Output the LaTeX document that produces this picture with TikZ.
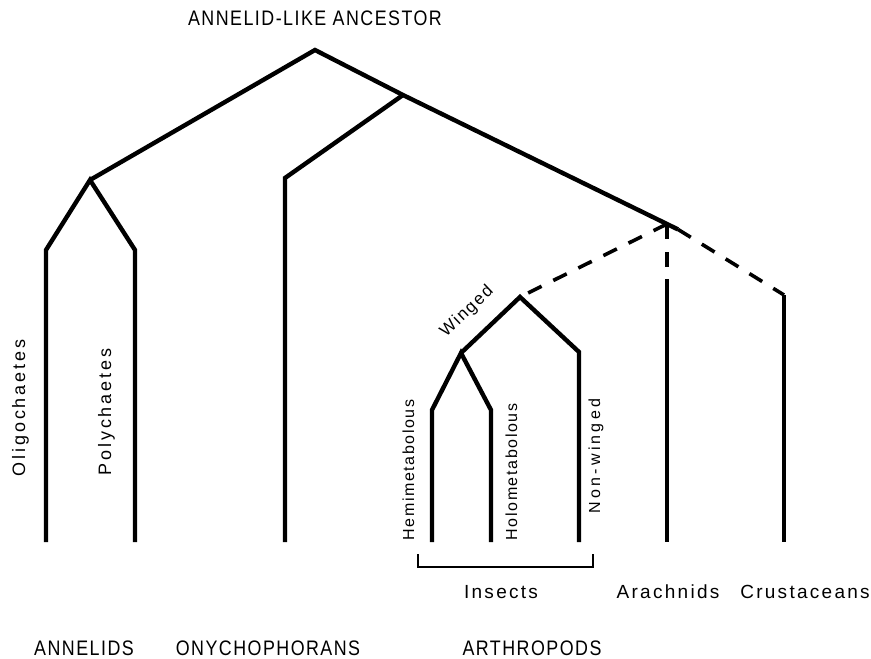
\documentclass[tikz,border=0pt]{standalone}
\usepackage{fontspec}
\setmainfont{Liberation Sans}
\newfontfamily\capsfont{Liberation Sans}[LetterSpace=7,FakeStretch=0.85]
\newfontfamily\lowfont{Liberation Sans}[LetterSpace=12]
\newfontfamily\vbigfont{Liberation Sans}[LetterSpace=16]
\newfontfamily\vfont{Liberation Sans}[LetterSpace=10]
\newfontfamily\vwidefont{Liberation Sans}[LetterSpace=20]
\begin{document}
\begin{tikzpicture}[x=1pt,y=-1pt,
  branch/.style={line width=4.4pt,line join=miter},
  dashbranch/.style={line width=3.6pt,dash pattern=on 15pt off 13pt},
  bracketline/.style={line width=2.8pt},
  caps/.style={font=\capsfont\fontsize{21}{21}\selectfont,inner sep=0pt,anchor=base},
  lab/.style={font=\lowfont\fontsize{19}{19}\selectfont,inner sep=0pt,anchor=base},
  vlabbig/.style={font=\vbigfont\fontsize{18}{18}\selectfont,inner sep=0pt,anchor=base,rotate=90},
  vlab/.style={font=\vfont\fontsize{16}{16}\selectfont,inner sep=0pt,anchor=base,rotate=90},
  vlabwide/.style={font=\vwidefont\fontsize{16}{16}\selectfont,inner sep=0pt,anchor=base,rotate=90},
  diaglab/.style={font=\vfont\fontsize{17}{17}\selectfont,inner sep=0pt,anchor=base,rotate=43.5}]
\useasboundingbox (0,0) rectangle (871,659);
% junctions and ends
\coordinate (root) at (315,50);
\coordinate (onyj) at (403,95);
\coordinate (ann) at (90,180);
\coordinate (olc) at (46,250);
\coordinate (olb) at (46,542);
\coordinate (poc) at (135,250);
\coordinate (pob) at (135,542);
\coordinate (onc) at (285,178);
\coordinate (onb) at (285,542);
\coordinate (arth) at (667,224);
\coordinate (ext) at (678,229.4);
\coordinate (ins) at (520,297);
\coordinate (win) at (461,353);
\coordinate (hec) at (432,410);
\coordinate (heb) at (432,542);
\coordinate (hoc) at (491,410);
\coordinate (hob) at (491,542);
\coordinate (nwc) at (579,352);
\coordinate (nwb) at (579,542);
\coordinate (ard) at (667,268);
\coordinate (arc) at (667,279);
\coordinate (arb) at (667,542);
\coordinate (crc) at (784,295);
\coordinate (crb) at (784,542);
\coordinate (brl) at (418,554);
\coordinate (brr) at (593,554);
% branches
\draw[branch] (olb) -- (olc) -- (ann) -- (poc) -- (pob);
\draw[branch] (ann) -- (root) -- (onyj) -- (arth) -- (ext);
\draw[branch] (onyj) -- (onc) -- (onb);
\draw[dashbranch] (arth) -- (ins);
\draw[dashbranch] (arth) -- (ard);
\draw[dashbranch] (ext) -- (crc);
\draw[branch] (arc) -- (arb);
\draw[branch] (crc) -- (crb);
\draw[branch] (heb) -- (hec) -- (win) -- (hoc) -- (hob);
\draw[branch] (win) -- (ins) -- (nwc) -- (nwb);
\draw[bracketline] (brl) -- ++(0,13) -| (brr);
% labels
\node[caps] (ancestor) at (315,25) {ANNELID-LIKE ANCESTOR};
\node[caps] (annelids) at (84,655) {ANNELIDS};
\node[caps] (onycho) at (268,655) {ONYCHOPHORANS};
\node[caps] (arthro) at (532,655) {ARTHROPODS};
\node[lab] (insects) at (501,598) {Insects};
\node[lab] (arachnids) at (668,598) {Arachnids};
\node[lab] (crust) at (805,598) {Crustaceans};
\node[vlabbig] (oligo) at (25,408) {Oligochaetes};
\node[vlabbig] (poly) at (111,412) {Polychaetes};
\node[vlab] (hemi) at (414,470) {Hemimetabolous};
\node[vlab] (holo) at (517,472) {Holometabolous};
\node[vlabwide] (nonw) at (600,456) {Non-winged};
\node[diaglab] (winged) at (470,315) {Winged};
\end{tikzpicture}
\end{document}
